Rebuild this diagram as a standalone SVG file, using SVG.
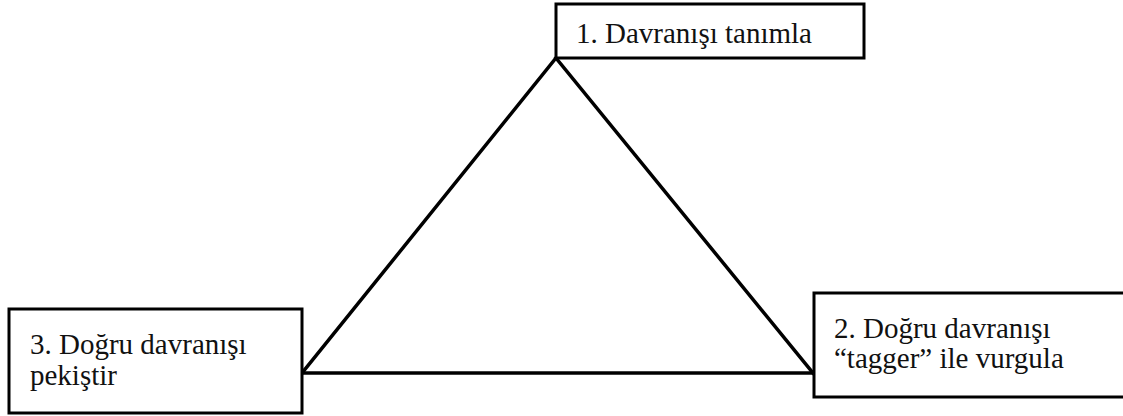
<svg xmlns="http://www.w3.org/2000/svg" width="1123" height="416" viewBox="0 0 1123 416">
<style>
.box{fill:#fff;stroke:#000;stroke-width:3}
.t{font-family:'Liberation Serif','Times New Roman',Times,serif;font-size:29px;fill:#111}
.edge{stroke:#000;stroke-width:3.5;fill:none;stroke-linecap:square}
</style>
<rect width="1123" height="416" fill="#fff"/>
<g id="connectors">
<line class="edge" x1="556" y1="58" x2="813" y2="373"/>
<line class="edge" x1="302" y1="373" x2="813" y2="373"/>
<line class="edge" x1="556" y1="58" x2="302" y2="373"/>
</g>
<g id="node1">
<rect class="box" x="556" y="4" width="308" height="54"/>
<text class="t" x="576" y="43">1. Davranışı tanımla</text>
</g>
<g id="node2">
<rect class="box" x="814" y="293" width="320" height="104"/>
<text class="t" x="834" y="338">2. Doğru davranışı</text>
<text class="t" x="834" y="368">“tagger” ile vurgula</text>
</g>
<g id="node3">
<rect class="box" x="9" y="309" width="293" height="104"/>
<text class="t" x="30" y="354">3. Doğru davranışı</text>
<text class="t" x="30" y="385">pekiştir</text>
</g>
</svg>
